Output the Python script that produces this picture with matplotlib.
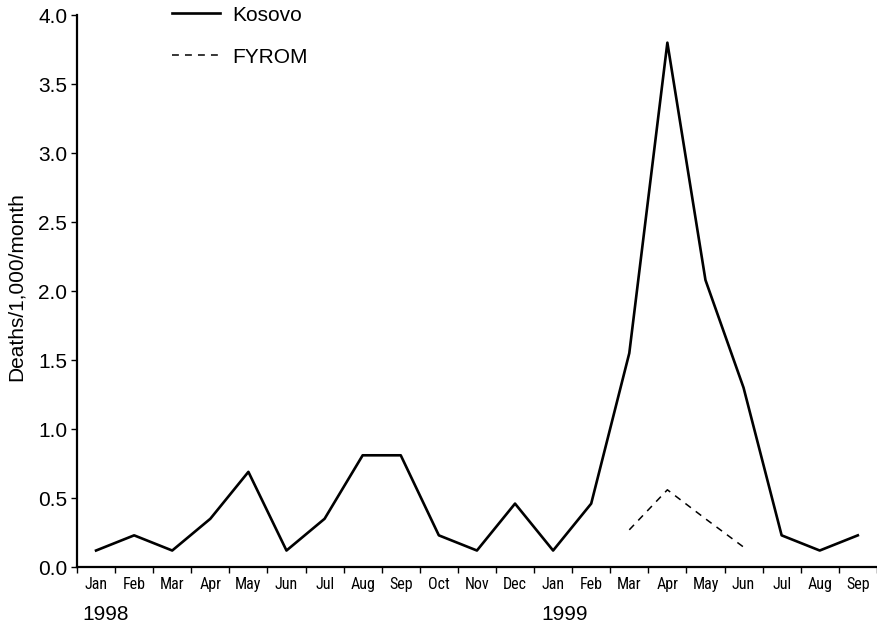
import numpy as np
import matplotlib
matplotlib.use("Agg")
import matplotlib.pyplot as plt

months = ["Jan", "Feb", "Mar", "Apr", "May", "Jun", "Jul", "Aug", "Sep", "Oct",
          "Nov", "Dec", "Jan", "Feb", "Mar", "Apr", "May", "Jun", "Jul", "Aug", "Sep"]
kosovo = [0.12, 0.23, 0.12, 0.35, 0.69, 0.12, 0.35, 0.81, 0.81, 0.23,
          0.12, 0.46, 0.12, 0.46, 1.55, 3.80, 2.08, 1.30, 0.23, 0.12, 0.23]
fyrom = [0.27, 0.56, 0.35, 0.145]  # Mar-Jun 1999
fyrom_start = 14  # index of Mar 1999 in months
years = ["1998", "1999"]

plt.rcParams["font.family"] = ["Liberation Sans", "DejaVu Sans"]

fig = plt.figure(figsize=(8.78, 6.28), dpi=100)
ax = fig.add_axes([0.0877, 0.097, 0.911, 0.879])

x = np.arange(len(months)) + 0.5
ax.plot(x, kosovo, color="black", lw=1.9, label="Kosovo")
xf = np.arange(len(fyrom)) + fyrom_start + 0.5
ax.plot(xf, fyrom, color="black", lw=1.1, ls=(0, (4.5, 4)), label="FYROM")

ax.set_xlim(0, len(months))
ax.set_ylim(0, 4.0)
yt = np.arange(0, 4.01, 0.5)
ax.set_yticks(yt)
ax.set_yticklabels([f"{v:.1f}" for v in yt], fontsize=15)
ax.set_xticks(np.arange(0, len(months) + 1))
ax.set_xticklabels([])
ax.set_xticks(x, minor=True)
ax.set_xticklabels(months, minor=True, fontsize=11.5,
                   family=["Roboto Condensed", "Liberation Sans"])
ax.tick_params(axis="x", which="minor", length=0, pad=7)
ax.tick_params(axis="x", which="major", length=4, width=1)
ax.tick_params(axis="y", length=4, width=1, pad=3)

for s in ["top", "right"]:
    ax.spines[s].set_visible(False)
for s in ["left", "bottom"]:
    ax.spines[s].set_linewidth(1.6)

ax.set_ylabel("Deaths/1,000/month", fontsize=15)
ax.yaxis.set_label_coords(-0.064, 0.509)

fig.text(0.0934, 0.021, years[0], fontsize=15, va="center")
fig.text(0.617, 0.021, years[1], fontsize=15, va="center")

fig.legend(loc="upper left", bbox_to_anchor=(0.196, 0.991), frameon=False,
           fontsize=15, handlelength=2.3, labelspacing=1.1, handletextpad=0.6,
           borderpad=0, borderaxespad=0)

fig.savefig("out.png", dpi=100)
